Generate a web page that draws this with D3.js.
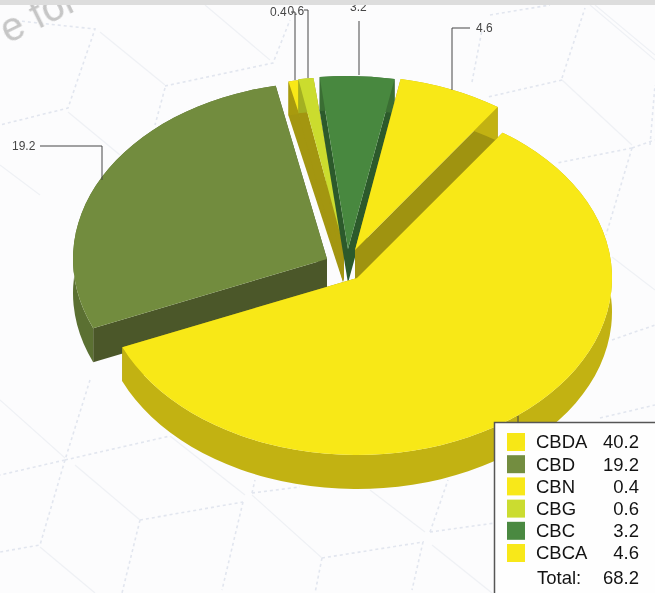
<!DOCTYPE html>
<html><head><meta charset="utf-8">
<style>html,body{margin:0;padding:0;background:#fcfcfd;overflow:hidden}svg{display:block;font-family:"Liberation Sans",Arial,sans-serif}</style>
<script src="https://cdn.jsdelivr.net/npm/d3@7"></script></head>
<body><div id="c"></div>
<script>
const categories = ["CBDA","CBD","CBN","CBG","CBC","CBCA"];
const values = [40.2,19.2,0.4,0.6,3.2,4.6];
const totalLabel = "Total:";
const totalValue = 68.2;

// presentation
const topColors  = ["#f8e817","#728c3e","#f8e817","#cbdc2e","#48883f","#f8e817"];
const rimColors  = ["#c2b212","#5b7032","#a89a0e","#a3b022","#3a6e33","#c2b212"];
const wallColors = ["#9f9310","#4b5729","#a39610","#a39610","#2c5a2b","#9f9310"];
const apexes = [[357,278],[327,259],[343,248],[344,248],[348,249],[355,250]];
const radiiX = [255,254,270,275,255,250];
const radiiY = [177,177,170,171,173,174];
const drawOrder = [2,3,4,5,1,0];
const W=655,H=593,depth=34,startDeg=34.8;
const leaders = [
 {i:1,pts:[[40,146],[102,146],[102,180]],tx:12,ty:146},
 {i:2,pts:[[291,12],[295,12],[295,80]],tx:270,ty:12},
 {i:3,pts:[[304,10],[308,10],[308,78]],tx:287.5,ty:11},
 {i:4,pts:[[359,21],[359,75]],tx:350,ty:7},
 {i:5,pts:[[470,28],[452,28],[452,90]],tx:476,ty:28},
 {i:0,pts:[[518,416],[518,430]],tx:null}
];
const wmDashed = [
 [[10,20],[95,29],[68,108],[0,125]],[[165,86],[273,63],[290,20]],[[165,88],[155,125]],
 [[562,78],[585,8]],[[562,80],[488,97]],[[472,82],[482,30]],[[490,15],[550,5]],
 [[632,148],[557,163]],[[632,148],[606,235]],[[632,148],[655,140]],[[650,145],[655,85]],
 [[612,340],[655,325]],[[600,418],[655,405]],
 [[90,380],[65,460],[0,475]],[[65,460],[170,436]],[[65,460],[40,545],[0,552]],
 [[140,520],[243,502]],[[140,520],[122,593]],[[243,502],[222,590]],
 [[252,493],[300,487]],[[252,493],[255,480]],
 [[322,558],[423,542],[412,590]],[[322,558],[315,593]],[[430,532],[448,480]],[[430,532],[495,523]]
];
const wmThin = [
 [[100,32],[165,85]],[[68,112],[120,155]],[[205,5],[270,60]],[[0,165],[40,195]],
 [[562,80],[632,145]],[[595,5],[655,55]],[[590,5],[655,60]],[[612,257],[655,290]],
 [[0,400],[65,458]],[[75,465],[140,520]],[[40,547],[95,593]],[[170,436],[245,495]],
 [[252,495],[322,558]],[[370,490],[425,532]],[[432,545],[492,593]]
];

const svg=d3.select("#c").append("svg").attr("width",W).attr("height",H);
svg.append("rect").attr("width",W).attr("height",H).attr("fill","#fcfcfd");

// watermark
const wm=svg.append("g").attr("fill","none");
const ln=d3.line();
wm.selectAll(".d").data(wmDashed).join("path").attr("d",ln).attr("stroke","#e2e6ef").attr("stroke-width",1.6).attr("stroke-dasharray","3 3");
wm.selectAll(".t").data(wmThin).join("path").attr("d",ln).attr("stroke","#eff1f5").attr("stroke-width",1.2);
svg.append("text").attr("transform","translate(8,44) rotate(-26)").attr("font-size",40).attr("fill","#c6c6c6").style("filter","blur(0.6px)").text("e for");

// pie
const pie=d3.pie().sort(null).startAngle(startDeg*Math.PI/180).endAngle((startDeg+360)*Math.PI/180);
const arcs=pie(values);
const g=svg.append("g");
drawOrder.forEach(i=>{
  const d=arcs[i],ap=apexes[i],rx=radiiX[i],ry=radiiY[i];
  const pt=a=>[ap[0]+rx*Math.sin(a),ap[1]-ry*Math.cos(a)];
  const s=g.append("g");
  const A=pt(d.startAngle),B=pt(d.endAngle);
  const large=(d.endAngle-d.startAngle)>Math.PI?1:0;
  [A,B].forEach(P=>{
    s.append("path").attr("d",d3.line()([ap,P,[P[0],P[1]+depth],[ap[0],ap[1]+depth]])+"Z")
     .attr("fill",wallColors[i]);
  });
  s.append("path").attr("d",`M${A[0]},${A[1]}A${rx},${ry} 0 ${large} 1 ${B[0]},${B[1]}L${B[0]},${B[1]+depth}A${rx},${ry} 0 ${large} 0 ${A[0]},${A[1]+depth}Z`)
   .attr("fill",rimColors[i]);
  s.append("path").attr("transform",`translate(${ap[0]},${ap[1]}) scale(1,${ry/rx})`)
   .attr("d",d3.arc().innerRadius(0).outerRadius(rx)(d)).attr("fill",topColors[i]);
});

// leaders
const lab=svg.append("g").style("opacity",0.99);
leaders.forEach(l=>{
  lab.append("path").attr("d",d3.line()(l.pts)).attr("fill","none").attr("stroke","#444").attr("stroke-width",1);
  if(l.tx!==null) lab.append("text").attr("x",l.tx).attr("y",l.ty).attr("dy","0.35em")
    .attr("font-size",12).attr("fill","#444").text(d3.format(".1f")(values[l.i]));
});

// top strip
svg.append("rect").attr("width",W).attr("height",5).attr("fill","#dddddd");

// legend
const lg=svg.append("g").style("opacity",0.99);
lg.append("rect").attr("x",494.5).attr("y",422.5).attr("width",200).attr("height",200).attr("fill","#fff").attr("stroke","#555").attr("stroke-width",1.5);
const rowY=d3.scalePoint().domain(categories).range([442,553]);
const fs=18.5;
categories.forEach((c,i)=>{
  const y=rowY(c);
  lg.append("rect").attr("x",507).attr("y",y-9).attr("width",18).attr("height",18).attr("fill",topColors[i]);
  lg.append("text").attr("x",536).attr("y",y).attr("dy","0.35em").attr("font-size",fs).attr("fill","#111").text(c);
  lg.append("text").attr("x",639).attr("y",y).attr("dy","0.35em").attr("text-anchor","end").attr("font-size",fs).attr("fill","#111").text(d3.format(".1f")(values[i]));
});
lg.append("text").attr("x",537).attr("y",578).attr("dy","0.35em").attr("font-size",fs).attr("fill","#111").text(totalLabel);
lg.append("text").attr("x",639).attr("y",578).attr("dy","0.35em").attr("text-anchor","end").attr("font-size",fs).attr("fill","#111").text(d3.format(".1f")(totalValue));
</script></body></html>
